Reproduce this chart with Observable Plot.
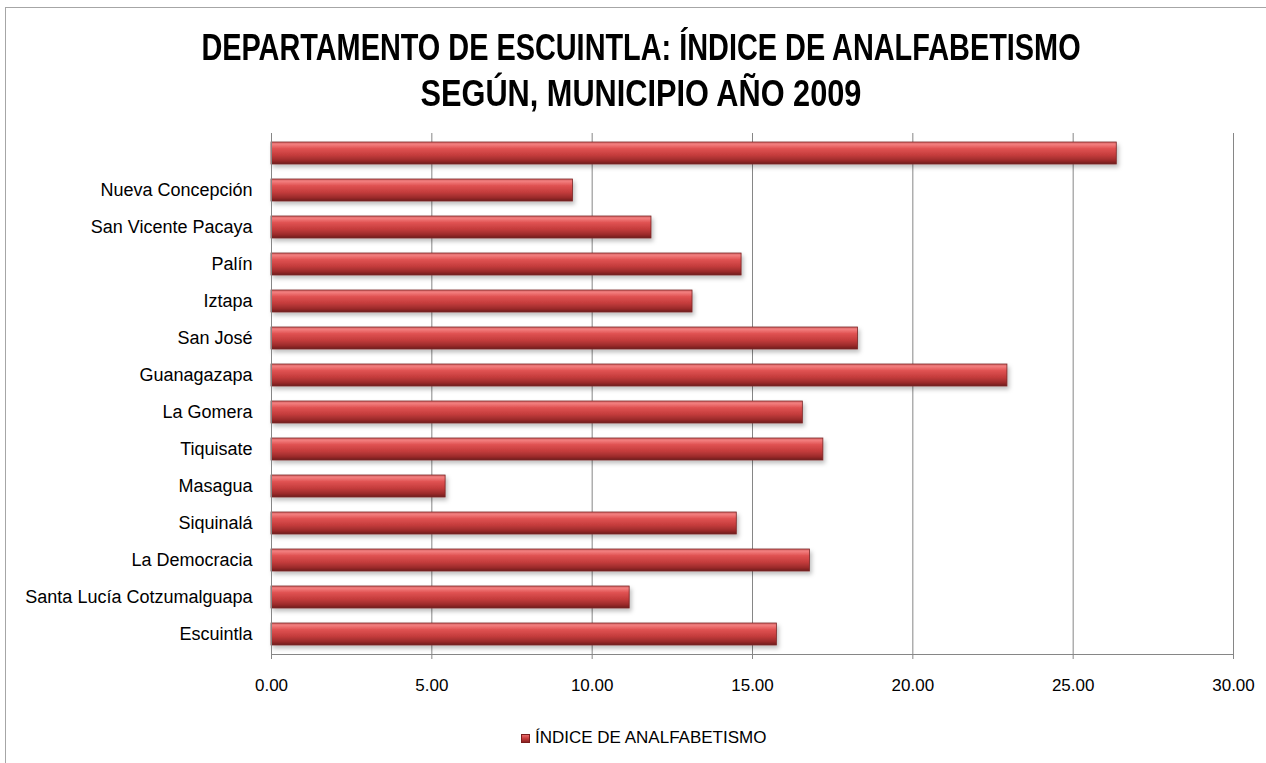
<!DOCTYPE html>
<html>
<head>
<meta charset="utf-8">
<script src="https://cdn.jsdelivr.net/npm/d3@7"></script>
<script src="https://cdn.jsdelivr.net/npm/@observablehq/plot@0.6"></script>
<style>
  html, body { margin: 0; padding: 0; background: #fff; }
  #frame { position: relative; width: 1266px; height: 763px; overflow: hidden; background: #fff; }
  #border { position: absolute; left: 5px; top: 7px; width: 1300px; height: 800px; border: 1px solid #a6a6a6; box-sizing: border-box; }
  #chart { position: absolute; left: 0; top: 0; }
  .tline { position: absolute; left: 0; width: 1282px; text-align: center;
           font-family: "Liberation Sans", Arial, sans-serif; font-weight: bold;
           font-size: 37px; line-height: 46px; color: #000; white-space: nowrap; }
  #t1 { top: 25px; transform: scaleX(0.78); }
  #t2 { top: 71px; transform: scaleX(0.83); }
  #legend { position: absolute; left: 521px; top: 728px; font-family: "Liberation Sans", sans-serif;
            font-size: 17px; color: #000; display: flex; align-items: center; }
  #legend .sw { width: 9px; height: 9px; margin-right: 5px;
                background: linear-gradient(#e86a6a, #c63a3a 50%, #8a2222); border: 1px solid #7a1e1e; box-sizing: border-box; }
</style>
</head>
<body>
<div id="frame">
  <div id="border"></div>
  <div id="chart"></div>
  <div class="tline" id="t1">DEPARTAMENTO DE ESCUINTLA: ÍNDICE DE ANALFABETISMO</div>
  <div class="tline" id="t2">SEGÚN, MUNICIPIO AÑO 2009</div>
  <div id="legend"><span class="sw"></span><span>ÍNDICE DE ANALFABETISMO</span></div>
</div>
<script>
const municipios = ["", "Nueva Concepción", "San Vicente Pacaya", "Palín", "Iztapa", "San José",
  "Guanagazapa", "La Gomera", "Tiquisate", "Masagua", "Siquinalá", "La Democracia",
  "Santa Lucía Cotzumalguapa", "Escuintla"];
const indice = [26.36, 9.40, 11.85, 14.66, 13.13, 18.29, 22.95, 16.57, 17.21, 5.43, 14.51, 16.79, 11.17, 15.76];
const xTicks = [0, 5, 10, 15, 20, 25, 30];

const data = municipios.map((m, i) => ({municipio: m, valor: indice[i]}));

const plot = Plot.plot({
  width: 1266,
  height: 763,
  marginLeft: 271,
  marginRight: 33,
  marginTop: 133,
  marginBottom: 109,
  style: {fontFamily: "'Liberation Sans', sans-serif", fontSize: "17px", color: "#000", background: "transparent"},
  x: {domain: [0, 30], ticks: xTicks, tickFormat: d => d.toFixed(2), label: null},
  y: {domain: municipios, paddingInner: 0.4, paddingOuter: 0.2, label: null},
  marks: [
    Plot.gridX(xTicks, {stroke: "#868686", strokeOpacity: 1, strokeWidth: 1}),
    Plot.barX(data, {x: "valor", y: "municipio", fill: "url(#barGrad)", stroke: "#7a2424", strokeWidth: 0.8}),
    Plot.axisX({ticks: xTicks, tickFormat: d => d.toFixed(2), tickSize: 5, tickPadding: 19, stroke: "#868686", fontSize: 17, label: null}),
    Plot.axisY({tickSize: 0, tickPadding: 19, fontSize: 18, label: null}),
    Plot.frame({anchor: "left", stroke: "#868686"}),
    Plot.frame({anchor: "bottom", stroke: "#868686"})
  ]
});
document.getElementById("chart").appendChild(plot);

const svg = d3.select(plot);
// gradient + shadow definitions
const defs = svg.insert("defs", ":first-child");
const g = defs.append("linearGradient").attr("id", "barGrad").attr("x1", 0).attr("y1", 0).attr("x2", 0).attr("y2", 1);
[[0, "#d96a6a"], [0.12, "#f27c7c"], [0.3, "#e05252"], [0.6, "#c43c3c"], [0.85, "#9a2a2a"], [1, "#6e1c1c"]]
  .forEach(([o, c]) => g.append("stop").attr("offset", o).attr("stop-color", c));
const f = defs.append("filter").attr("id", "shadow").attr("x", "-5%").attr("y", "-30%").attr("width", "110%").attr("height", "180%");
f.append("feDropShadow").attr("dx", 2).attr("dy", 3).attr("stdDeviation", 2).attr("flood-color", "#000").attr("flood-opacity", 0.25);
svg.selectAll("g[aria-label='bar']").attr("filter", "url(#shadow)");
</script>
</body>
</html>
